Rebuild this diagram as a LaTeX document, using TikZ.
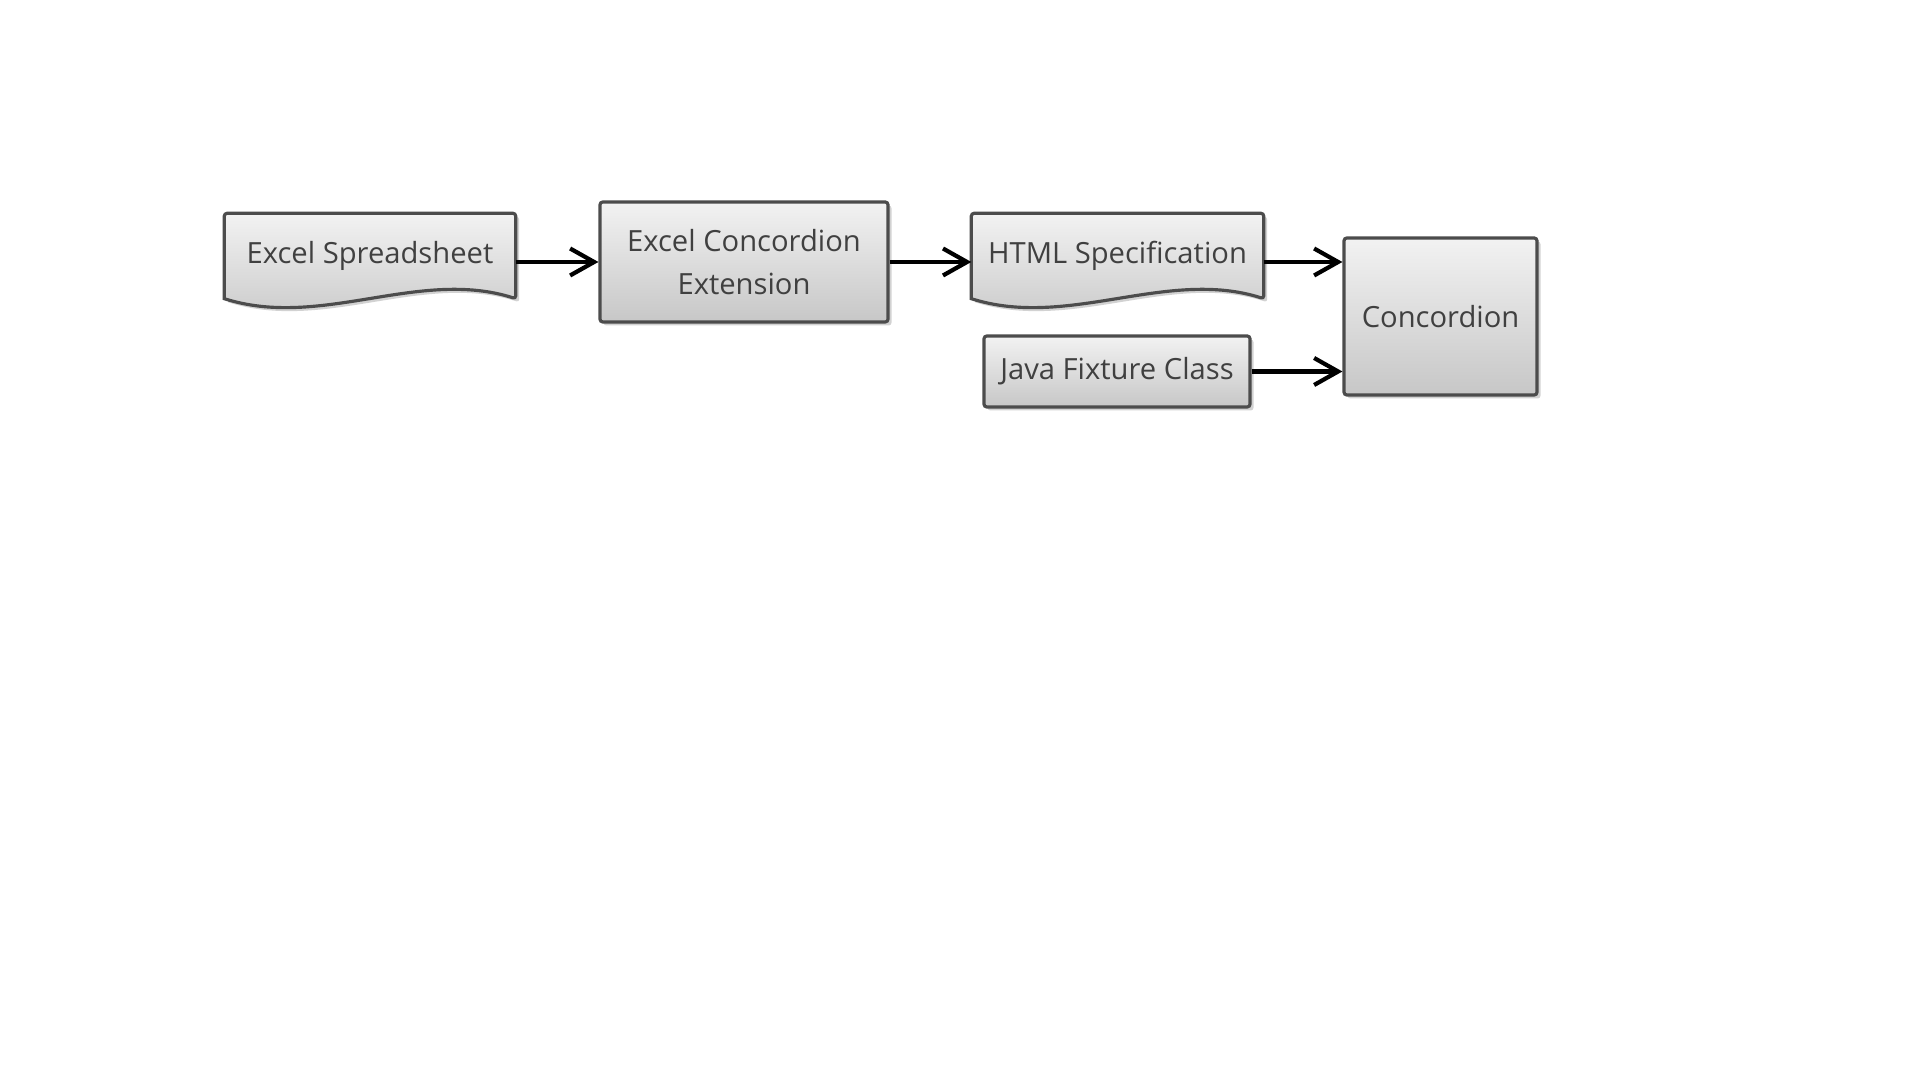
\documentclass[tikz,border=0pt]{standalone}
\usepackage{fontspec}
\setmainfont{Open Sans}
\usetikzlibrary{arrows.meta,shadows,backgrounds}

\tikzset{
  boxfill/.style={draw=black!70, line width=0.9pt, top color=black!5, bottom color=black!22,
    drop shadow={shadow xshift=0.035cm, shadow yshift=-0.035cm, opacity=0.35}},
  txt/.style={text=black!75, font=\fontsize{8.3}{12}\selectfont, align=center, inner sep=0pt},
  procbox/.style={txt, boxfill, rounded corners=0.8pt},
  docbox/.style={txt},
  flow/.style={-{Straight Barb[length=0.24cm,width=0.27cm]}, line width=1.2pt, black}
}

\begin{document}
\begin{tikzpicture}
        \useasboundingbox (0,0) rectangle (19.2,10.8);
        % nodes
        \node[docbox, minimum width=2.90cm, minimum height=0.84cm] (sheet) at (3.70,8.24) {Excel Spreadsheet};
        \node[procbox, minimum width=2.88cm, minimum height=1.20cm] (ext) at (7.44,8.18) {Excel Concordion\\Extension};
        \node[docbox, minimum width=2.91cm, minimum height=0.84cm] (html) at (11.175,8.24) {HTML Specification};
        \node[procbox, minimum width=2.66cm, minimum height=0.71cm] (fixture) at (11.17,7.085) {Java Fixture Class};
        \node[procbox, minimum width=1.93cm, minimum height=1.57cm] (conc) at (14.405,7.635) {Concordion};
        % page and document outlines
        \begin{pgfonlayer}{background}
            \fill[white] (0,0) rectangle (19.2,10.8);
            \foreach \n in {sheet,html}
                \draw[boxfill, rounded corners=0.8pt] (\n.south west) -- (\n.north west) -- (\n.north east) -- (\n.south east)
                    [sharp corners] .. controls +(-0.97,0.31) and +(0.97,-0.31) .. (\n.south west) -- cycle;
        \end{pgfonlayer}
        % arrows
        \draw[flow] (sheet.east |- ext) -- (ext.west);
        \draw[flow] (ext.east) -- (html.west |- ext);
        \draw[flow] (html.east |- ext) -- (conc.west |- ext);
        \draw[flow] (fixture.east) -- (conc.west |- fixture);
    \end{tikzpicture}
\end{document}
